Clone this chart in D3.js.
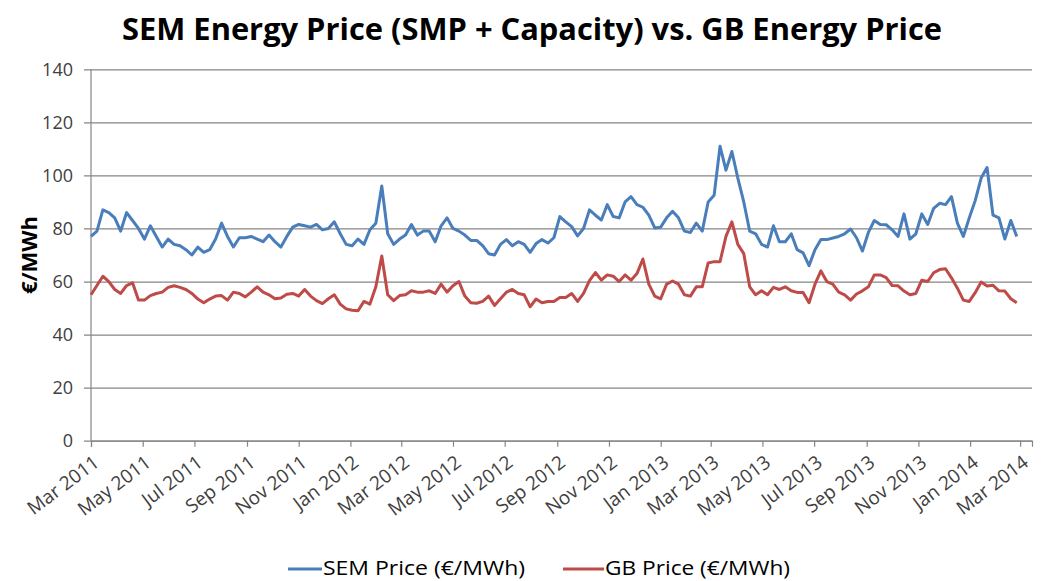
<!DOCTYPE html>
<html>
<head>
<meta charset="utf-8">
<script src="https://cdn.jsdelivr.net/npm/d3@7"></script>
<style>
  body { margin: 0; background: #fff; }
  text { font-family: "Open Sans", sans-serif; }
</style>
</head>
<body>
<div id="chart"></div>
<script>
// weekly readings, first week starts 1 Mar 2011
var startDate = "2011-03-01";

var semPrice = [
  77, 79, 87, 86, 84, 79, 86, 83, 80, 76, 81, 77, 73, 76, 74, 73.5, 72, 70, 73, 71, 72, 76, 82,
  77, 73, 76.5, 76.5, 77, 76, 75, 77.5, 75, 73, 77, 80.5, 81.5, 81, 80.5, 81.5, 79.5, 80, 82.5, 78, 74, 73.5, 76,
  74, 79.5, 82, 96, 78, 74, 76, 77.5, 81.5, 77.5, 79, 79, 75, 81, 84, 80, 79, 77.5, 75.5, 75.5, 73.5, 70.5, 70,
  74, 75.8, 73.5, 75, 74, 71, 74.3, 75.8, 74.5, 76.5, 84.5, 82.5, 80.7, 77.2, 80, 87, 85, 83.2, 89, 84.5, 84, 90,
  92, 89, 88, 85, 80.2, 80.5, 84, 86.5, 84, 79, 78.5, 82, 79, 90, 92.5, 111, 102, 109, 99, 90, 79, 78, 74,
  73, 81, 75, 75, 78, 72, 70.8, 66, 72, 75.8, 75.8, 76.4, 77, 78, 79.8, 76.5, 71.5, 78.5, 83, 81.5, 81.4, 79.5, 77,
  85.5, 76, 78, 85.5, 81.5, 87.6, 89.5, 89, 92, 82, 77, 84, 90.5, 99, 103, 85, 84, 76, 83, 77
];

var gbPrice = [
  55, 58.5, 62, 60, 57, 55.5, 58.5, 59.5, 53, 53, 54.7, 55.5, 56, 57.8, 58.4, 57.8, 57, 55.5, 53.4, 52, 53.4, 54.5, 54.7,
  53, 56, 55.5, 54.2, 56, 58, 56, 55, 53.5, 53.8, 55.2, 55.5, 54.5, 57, 54.5, 52.8, 51.7, 53.5, 55, 51.5, 49.7, 49.2, 49,
  52.5, 51.5, 58, 69.6, 55, 52.8, 54.7, 55, 56.5, 56, 56, 56.5, 55.5, 59, 56, 58.4, 60, 54.5, 52, 51.8, 52.5, 54.5, 51,
  53.5, 56, 57, 55.5, 55, 50.5, 53.4, 52, 52.5, 52.5, 54, 54, 55.5, 52.5, 55.5, 60.3, 63.4, 60.5, 62.5, 62, 60, 62.5,
  60.5, 63, 68.5, 59, 54.5, 53.5, 59, 60.2, 59, 55, 54.5, 58, 58, 67, 67.5, 67.5, 77, 82.5, 74, 70.5, 58, 55, 56.5,
  55, 57.8, 57, 58, 56.5, 55.9, 55.9, 52, 59, 64, 60, 59, 56, 55, 53, 55.3, 56.5, 58, 62.5, 62.5, 61.5, 58.5, 58.4,
  56.4, 55, 55.5, 60.5, 60, 63.3, 64.5, 64.8, 61.4, 57.5, 53, 52.5, 55.8, 59.8, 58.3, 58.6, 56.5, 56.4, 53.5, 52
];

var tickLabels = ["Mar 2011", "May 2011", "Jul 2011", "Sep 2011", "Nov 2011", "Jan 2012",
  "Mar 2012", "May 2012", "Jul 2012", "Sep 2012", "Nov 2012", "Jan 2013", "Mar 2013",
  "May 2013", "Jul 2013", "Sep 2013", "Nov 2013", "Jan 2014", "Mar 2014"];

var yTicks = [0, 20, 40, 60, 80, 100, 120, 140];

var seriesNames = ["SEM Price (\u20ac/MWh)", "GB Price (\u20ac/MWh)"];
var seriesColors = ["#4a7ebb", "#be4b48"];

var svgWidth = 1043;
var svgHeight = 581;

var margin = { top: 69.3, right: 11, bottom: 140.3, left: 91 };
var width = svgWidth - margin.left - margin.right;
var height = svgHeight - margin.top - margin.bottom;

var svg = d3.select("#chart")
  .append("svg")
  .attr("width", svgWidth)
  .attr("height", svgHeight);

var chartGroup = svg.append("g")
  .attr("transform", `translate(${margin.left}, ${margin.top})`);

var parseDay = d3.timeParse("%Y-%m-%d");
var parseMonth = d3.timeParse("%b %Y");
var t0 = parseDay(startDate);
var dates = semPrice.map((d, i) => d3.timeDay.offset(t0, i * 7));

var xTimeScale = d3.scaleTime()
  .domain([t0, parseDay("2014-03-15")])
  .range([0, width]);

var yLinearScale = d3.scaleLinear()
  .domain([0, 140])
  .range([height, 0]);

// gridlines + left ticks
var leftAxis = d3.axisLeft(yLinearScale)
  .tickValues(yTicks)
  .tickSize(-width)
  .tickFormat(d3.format("d"));

var yAxisG = chartGroup.append("g").call(leftAxis);
yAxisG.select(".domain").remove();
yAxisG.selectAll(".tick line")
  .attr("x1", -7)
  .attr("stroke", "#868686")
  .attr("stroke-width", 1.2);
yAxisG.selectAll(".tick text")
  .attr("x", -18)
  .attr("font-size", "18px")
  .attr("fill", "#404040")
  .style("font-family", "'Open Sans', sans-serif");

chartGroup.append("line")
  .attr("x1", 0).attr("x2", 0)
  .attr("y1", 0).attr("y2", height)
  .attr("stroke", "#868686")
  .attr("stroke-width", 1.2);

var bottomAxis = d3.axisBottom(xTimeScale)
  .tickValues(tickLabels.map(parseMonth))
  .tickSize(6)
  .tickFormat(d3.timeFormat("%b %Y"));

var xAxisG = chartGroup.append("g")
  .attr("transform", `translate(0, ${height})`)
  .call(bottomAxis);
xAxisG.select(".domain")
  .attr("stroke", "#868686")
  .attr("stroke-width", 1.2);
xAxisG.selectAll(".tick line")
  .attr("stroke", "#868686")
  .attr("stroke-width", 1.2);
xAxisG.selectAll(".tick text")
  .attr("text-anchor", "end")
  .attr("font-size", "19px")
  .attr("fill", "#404040")
  .style("font-family", "'Open Sans', sans-serif")
  .attr("y", 0)
  .attr("dy", "0.35em")
  .attr("transform", "translate(5, 19) rotate(-37)");

var line = d3.line()
  .x((d, i) => xTimeScale(dates[i]))
  .y(d => yLinearScale(d));

[semPrice, gbPrice].forEach(function(series, j) {
  chartGroup.append("path")
    .datum(series)
    .attr("fill", "none")
    .attr("stroke", seriesColors[j])
    .attr("stroke-width", 3)
    .attr("stroke-linejoin", "round")
    .attr("d", line);
});

// title
svg.append("text")
  .attr("x", 532)
  .attr("y", 40)
  .attr("text-anchor", "middle")
  .attr("font-size", "31px")
  .attr("font-weight", "bold")
  .attr("fill", "#000")
  .attr("textLength", 820)
  .attr("lengthAdjust", "spacingAndGlyphs")
  .text("SEM Energy Price (SMP + Capacity) vs. GB Energy Price");

// y axis title
svg.append("text")
  .attr("transform", "translate(37, 255) rotate(-90)")
  .attr("text-anchor", "middle")
  .attr("font-size", "22px")
  .attr("font-weight", "bold")
  .attr("fill", "#000")
  .text("\u20ac/MWh");

// legend
var legendItems = [
  { x1: 288, x2: 322, tx: 323, w: 202 },
  { x1: 563, x2: 604, tx: 605, w: 185 }
];
legendItems.forEach(function(l, j) {
  svg.append("line")
    .attr("x1", l.x1).attr("x2", l.x2)
    .attr("y1", 569).attr("y2", 569)
    .attr("stroke", seriesColors[j])
    .attr("stroke-width", 3);
  svg.append("text")
    .attr("x", l.tx)
    .attr("y", 575)
    .attr("font-size", "20px")
    .attr("fill", "#000")
    .attr("textLength", l.w)
    .attr("lengthAdjust", "spacingAndGlyphs")
    .text(seriesNames[j]);
});
</script>
</body>
</html>
